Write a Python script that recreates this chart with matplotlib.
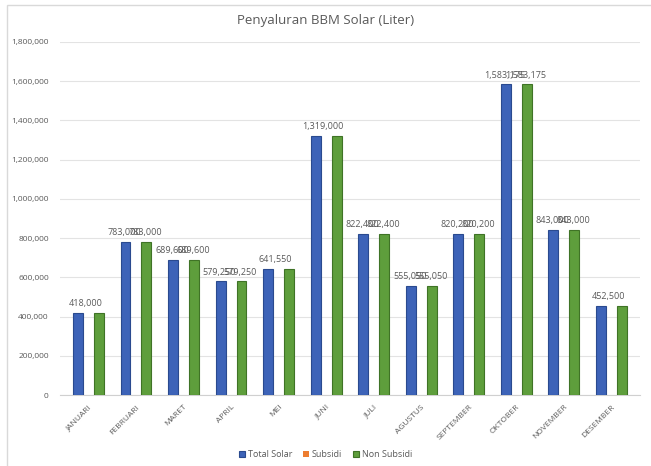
import matplotlib.pyplot as plt
import numpy as np
from matplotlib.patches import Rectangle
from matplotlib.ticker import FuncFormatter

bulan = ["JANUARI", "FEBRUARI", "MARET", "APRIL", "MEI", "JUNI", "JULI",
         "AGUSTUS", "SEPTEMBER", "OKTOBER", "NOVEMBER", "DESEMBER"]
total_solar = [418000, 783000, 689600, 579250, 641550, 1319000, 822400,
               555050, 820200, 1583175, 843000, 452500]
subsidi = [0] * 12
non_subsidi = [418000, 783000, 689600, 579250, 641550, 1319000, 822400,
               555050, 820200, 1583175, 843000, 452500]
# months where the chart only shows one value label
label_tunggal = ["JANUARI", "MEI", "JUNI", "DESEMBER"]

plt.rcParams['font.family'] = ['Open Sans', 'DejaVu Sans']
abu = "#595959"

fig = plt.figure(figsize=(6.51, 4.66), dpi=100)
fig.patches.append(Rectangle((0.011, -0.01), 0.995, 1.0, transform=fig.transFigure,
                             fill=False, edgecolor="#d9d9d9", linewidth=1))
ax = fig.add_axes([0.092, 0.152, 0.891, 0.758])

x = np.arange(len(bulan))
w = 0.22
ax.bar(x - w, total_solar, w * 0.95, color="#3d63b8", edgecolor="#2a4a8f",
       linewidth=0.8, label="Total Solar", zorder=3)
ax.bar(x, subsidi, w * 0.95, color="#ed7d31", label="Subsidi", zorder=3)
ax.bar(x + w, non_subsidi, w * 0.95, color="#5e9e3c", edgecolor="#3f7326",
       linewidth=0.8, label="Non Subsidi", zorder=3)

fmt = lambda v: f"{v:,.0f}"
for i, b in enumerate(bulan):
    if b in label_tunggal:
        ax.text(i - w * 0.3, total_solar[i] + 25000, fmt(total_solar[i]),
                ha="center", va="bottom", fontsize=6.5, color=abu)
    else:
        ax.text(i - w * 1.1, total_solar[i] + 25000, fmt(total_solar[i]),
                ha="center", va="bottom", fontsize=6.5, color=abu)
        ax.text(i + w * 0.9, non_subsidi[i] + 25000, fmt(non_subsidi[i]),
                ha="center", va="bottom", fontsize=6.5, color=abu)

ax.set_ylim(0, 1800000)
ax.set_yticks(np.arange(0, 1800001, 200000))
ax.yaxis.set_major_formatter(FuncFormatter(lambda v, p: f"{v:,.0f}"))
ax.set_xlim(-0.6, 11.6)
ax.set_xticks(x)
ax.set_xticklabels(bulan, rotation=45, ha="right", rotation_mode="anchor", fontsize=6)
ax.tick_params(axis="y", labelsize=6, colors=abu, length=0, pad=8)
ax.tick_params(axis="x", colors=abu, length=0, pad=6)
ax.grid(axis="y", color="#e3e3e3", linewidth=0.8, zorder=0)
for s in ["top", "right", "left"]:
    ax.spines[s].set_visible(False)
ax.spines["bottom"].set_color("#d0d0d0")

fig.text(0.5, 0.955, "Penyaluran BBM Solar (Liter)", ha="center", va="center",
         fontsize=9.5, color=abu)
fig.legend(loc="center", bbox_to_anchor=(0.5, 0.025), ncol=3, frameon=False,
           fontsize=6.5, handlelength=0.7, handleheight=0.7, handletextpad=0.3,
           columnspacing=1.2, labelcolor=abu)

fig.savefig("out.png", dpi=100)
